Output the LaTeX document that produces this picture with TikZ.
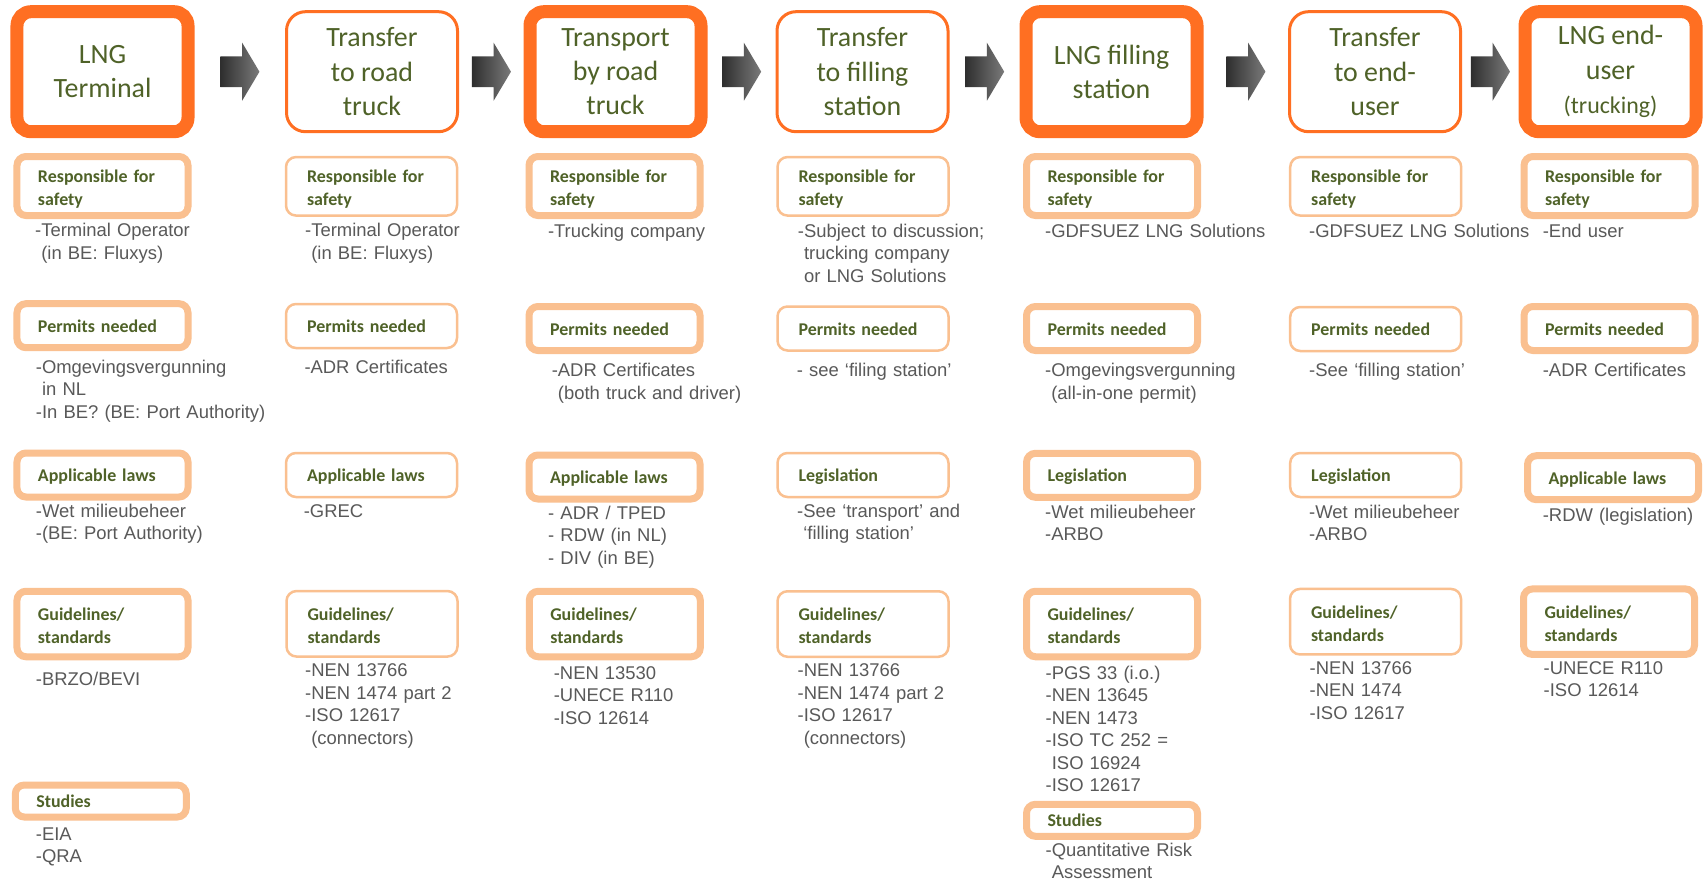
\documentclass[tikz,border=0pt]{standalone}
\usepackage{fontspec}
\setmainfont{Liberation Sans}
\newfontfamily\calibri{Carlito}
\usetikzlibrary{calc}

\definecolor{stageorange}{HTML}{FF6F22}
\definecolor{paleorange}{HTML}{FAC090}
\definecolor{stagegreen}{HTML}{4F6228}
\definecolor{notegrey}{HTML}{595959}
\definecolor{arrowdark}{HTML}{2E2E2E}
\definecolor{arrowlight}{HTML}{7A7A7A}

\tikzset{
  stage/.style={draw=stageorange, fill=white, minimum width=171bp, minimum height=120bp,
    inner sep=0pt, align=center, text=stagegreen,
    font=\calibri\fontsize{28}{34.5}\selectfont},
  keystage/.style={stage, line width=13bp, rounded corners=14bp},
  linkstage/.style={stage, line width=3bp, rounded corners=19bp},
  topic/.style={draw=paleorange, fill=white, minimum width=171bp, text width=129bp,
    inner xsep=21bp, inner ysep=0pt, align=left, text=stagegreen,
    text height=13bp, text depth=0pt,
    font=\calibri\bfseries\fontsize{18}{23}\selectfont},
  twolines/.style={text depth=20bp},
  keytopic/.style={topic, line width=7bp, rounded corners=9bp},
  linktopic/.style={topic, line width=2.5bp, rounded corners=10bp},
  notes/.style={anchor=base west, inner sep=0pt, text width=260bp, align=left,
    text=notegrey, font=\fontsize{18.5}{22.6}\selectfont},
  flow/.style={left color=arrowdark, right color=arrowlight}
}

\begin{document}
\begin{tikzpicture}[x=1bp, y=-1bp]
  \fill[white] (0,0) rectangle (1706,881);
  \useasboundingbox (0,0) rectangle (1706,881);

  % supply chain stages
  \node[keystage]  (t1) at (102.5,71.7) {LNG\\Terminal};
  \node[linkstage] (t2) at (372,71.7)   {Transfer\\to road\\truck};
  \node[keystage]  (t3) at (615.5,71.7) {Transport\\by road\\truck};
  \node[linkstage] (t4) at (862.5,71.7) {Transfer\\to filling\\station};
  \node[keystage]  (t5) at (1111.5,71.7) {LNG filling\\station};
  \node[linkstage] (t6) at (1375,71.7)  {Transfer\\to end-\\user};
  \node[keystage]  (t7) at (1610.5,71.7) {LNG end-\\user\\{\fontsize{24}{34.5}\selectfont(trucking)}};

  % block arrows halfway between neighbouring stages
  \foreach \a/\b in {t1/t2, t2/t3, t3/t4, t4/t5, t5/t6, t6/t7} {
    \coordinate (m-\a) at ($(\a.east)!0.5!(\b.west)$);
    \path[flow] ($(m-\a)+(-19.5,-15.3)$) -- ($(m-\a)+(2.4,-15.3)$)
      -- ($(m-\a)+(2.4,-29)$) -- ($(m-\a)+(19.7,0)$) -- ($(m-\a)+(2.4,29)$)
      -- ($(m-\a)+(2.4,15.3)$) -- ($(m-\a)+(-19.5,15.3)$) -- cycle;
  }

  % column 1
  \node[keytopic, twolines, minimum height=59bp] (r1) at (102.5,186) {Responsible for\\safety};
  \node[notes] (nr1) at (35,236.7) {-Terminal Operator\\\hphantom{-}(in BE: Fluxys)};
  \node[keytopic, minimum height=44bp] (p1) at (102.5,325.7) {Permits needed};
  \node[notes] (np1) at (35.7,373.3) {-Omgevingsvergunning\\\hphantom{-}in NL\\-In BE? (BE: Port Authority)};
  \node[keytopic, minimum height=44bp] (a1) at (102.5,475) {Applicable laws};
  \node[notes] (na1) at (35.7,517.3) {-Wet milieubeheer\\-(BE: Port Authority)};
  \node[keytopic, twolines, minimum height=65.5bp] (g1) at (102.5,624) {Guidelines/\\standards};
  \node[notes] (ng1) at (35.7,685) {-BRZO/BEVI};
  \node[keytopic, minimum height=32bp] (s1) at (100.8,801) {Studies};
  \node[notes] (ns1) at (35.7,840) {-EIA\\-QRA};

  % column 2
  \node[linktopic, twolines, minimum height=58.5bp] (r2) at (371.5,186.3) {Responsible for\\safety};
  \node[notes] (nr2) at (305,236.7) {-Terminal Operator\\\hphantom{-}(in BE: Fluxys)};
  \node[linktopic, minimum height=44bp] (p2) at (371.5,326) {Permits needed};
  \node[notes] (np2) at (304.3,373.3) {-ADR Certificates};
  \node[linktopic, minimum height=44bp] (a2) at (371.5,475) {Applicable laws};
  \node[notes] (na2) at (303.6,517.3) {-GREC};
  \node[linktopic, twolines, minimum height=65.5bp] (g2) at (372,623.8) {Guidelines/\\standards};
  \node[notes] (ng2) at (305,676.7) {-NEN 13766\\-NEN 1474 part 2\\-ISO 12617\\\hphantom{-}(connectors)};

  % column 3
  \node[keytopic, twolines, minimum height=59bp] (r3) at (614.5,186) {Responsible for\\safety};
  \node[notes] (nr3) at (547.8,237.3) {-Trucking company};
  \node[keytopic, minimum height=44bp] (p3) at (614.5,328.5) {Permits needed};
  \node[notes] (np3) at (551.6,376.7) {-ADR Certificates\\\hphantom{-}(both truck and driver)};
  \node[keytopic, minimum height=44bp] (a3) at (614.5,477) {Applicable laws};
  \node[notes] (na3) at (548,519) {- ADR / TPED\\- RDW (in NL)\\- DIV (in BE)};
  \node[keytopic, twolines, minimum height=65.5bp] (g3) at (614.8,624) {Guidelines/\\standards};
  \node[notes] (ng3) at (553.6,679.3) {-NEN 13530\\-UNECE R110\\-ISO 12614};

  % column 4
  \node[linktopic, twolines, minimum height=58.5bp] (r4) at (863,186.3) {Responsible for\\safety};
  \node[notes] (nr4) at (797.7,237.3) {-Subject to discussion;\\\hphantom{-}trucking company\\\hphantom{-}or LNG Solutions};
  \node[linktopic, minimum height=44bp] (p4) at (863,328.5) {Permits needed};
  \node[notes] (np4) at (796.6,376.7) {- see ‘filing station’};
  \node[linktopic, minimum height=44bp] (l4) at (863,475) {Legislation};
  \node[notes] (nl4) at (797,517.3) {-See ‘transport’ and\\\hphantom{-}‘filling station’};
  \node[linktopic, twolines, minimum height=65.5bp] (g4) at (863,624) {Guidelines/\\standards};
  \node[notes] (ng4) at (797.5,676.7) {-NEN 13766\\-NEN 1474 part 2\\-ISO 12617\\\hphantom{-}(connectors)};

  % column 5
  \node[keytopic, twolines, minimum height=59bp] (r5) at (1112,186) {Responsible for\\safety};
  \node[notes] (nr5) at (1045,237.3) {-GDFSUEZ LNG Solutions};
  \node[keytopic, minimum height=44bp] (p5) at (1112,328.5) {Permits needed};
  \node[notes] (np5) at (1045,376.7) {-Omgevingsvergunning\\\hphantom{-}(all-in-one permit)};
  \node[keytopic, minimum height=44bp] (l5) at (1112,475.3) {Legislation};
  \node[notes] (nl5) at (1045,518.3) {-Wet milieubeheer\\-ARBO};
  \node[keytopic, twolines, minimum height=65.5bp] (g5) at (1112,624) {Guidelines/\\standards};
  \node[notes] (ng5) at (1045.5,679.3) {-PGS 33 (i.o.)\\-NEN 13645\\-NEN 1473\\-ISO TC 252 =\\\hphantom{-}ISO 16924\\-ISO 12617};
  \node[keytopic, minimum height=32bp] (s5) at (1112,820.3) {Studies};
  \node[notes] (ns5) at (1045.5,856) {-Quantitative Risk\\\hphantom{-}Assessment};

  % column 6
  \node[linktopic, twolines, minimum height=58.5bp] (r6) at (1375.7,186.3) {Responsible for\\safety};
  \node[notes] (nr6) at (1309,237.3) {-GDFSUEZ LNG Solutions};
  \node[linktopic, minimum height=44bp] (p6) at (1375.7,329) {Permits needed};
  \node[notes] (np6) at (1309,376.7) {-See ‘filling station’};
  \node[linktopic, minimum height=44bp] (l6) at (1375.7,475) {Legislation};
  \node[notes] (nl6) at (1309,518.3) {-Wet milieubeheer\\-ARBO};
  \node[linktopic, twolines, minimum height=65.5bp] (g6) at (1375.5,621.7) {Guidelines/\\standards};
  \node[notes] (ng6) at (1309.5,674.3) {-NEN 13766\\-NEN 1474\\-ISO 12617};

  % column 7
  \node[keytopic, twolines, minimum height=59bp] (r7) at (1609.5,186) {Responsible for\\safety};
  \node[notes] (nr7) at (1542.6,237.3) {-End user};
  \node[keytopic, minimum height=44bp] (p7) at (1609.5,328.5) {Permits needed};
  \node[notes] (np7) at (1542.6,376.7) {-ADR Certificates};
  \node[keytopic, minimum height=44bp] (a7) at (1613,477.7) {Applicable laws};
  \node[notes] (na7) at (1542.6,521.7) {-RDW (legislation)};
  \node[keytopic, twolines, minimum height=65.5bp] (g7) at (1609,621.7) {Guidelines/\\standards};
  \node[notes] (ng7) at (1543.5,674.3) {-UNECE R110\\-ISO 12614};
\end{tikzpicture}
\end{document}
